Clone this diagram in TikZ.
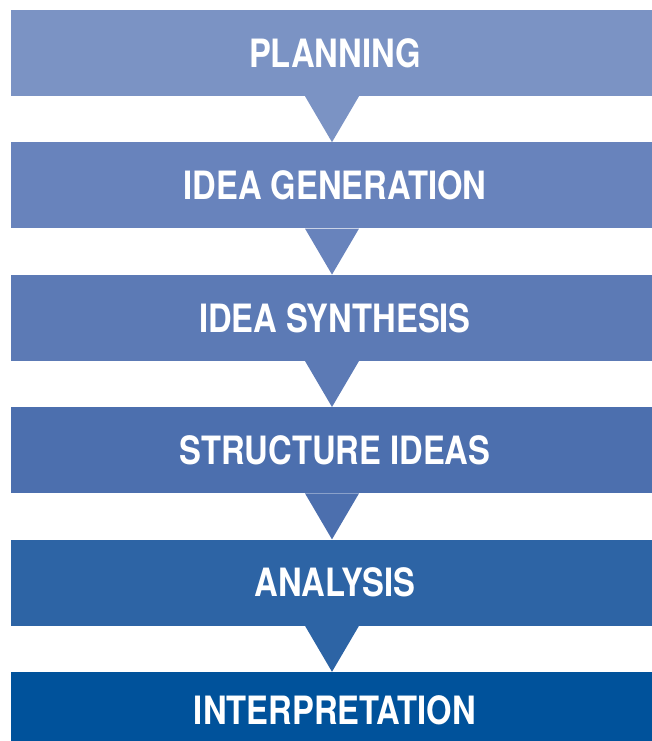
\documentclass[tikz,border=0pt]{standalone}
\usepackage{fontspec}
\setmainfont{TeX Gyre Heros}[FakeStretch=0.84]
\definecolor{cPlan}{RGB}{123,147,196}
\definecolor{cGen}{RGB}{104,131,188}
\definecolor{cSyn}{RGB}{92,122,181}
\definecolor{cStr}{RGB}{76,111,174}
\definecolor{cAna}{RGB}{45,100,165}
\definecolor{cInt}{RGB}{0,82,155}

\begin{document}
\begin{tikzpicture}[x=1pt,y=-1pt,
  stage/.style={rectangle,inner sep=0pt,minimum width=648pt,minimum height=86pt,
    text=white,font=\fontsize{39}{40}\selectfont\bfseries}]
\useasboundingbox (0,0) rectangle (651,741);

\path (335,53) node[stage,fill=cPlan] (plan) {PLANNING};
\path (335,185.4) node[stage,fill=cGen] (gen) {IDEA GENERATION};
\path (335,317.8) node[stage,fill=cSyn] (syn) {IDEA SYNTHESIS};
\path (335,450.2) node[stage,fill=cStr] (str) {STRUCTURE IDEAS};
\path (335,582.6) node[stage,fill=cAna] (ana) {ANALYSIS};
\path (335,710) node[stage,fill=cInt,minimum height=76pt] (int) {INTERPRETATION};

% pointers between stages
\fill[cPlan] (plan.south) ++(-30,0) -- ++(54,0) -- ([xshift=-3pt]gen.north) -- cycle;
\fill[cGen] (gen.south) ++(-30,0) -- ++(54,0) -- ([xshift=-3pt]syn.north) -- cycle;
\fill[cSyn] (syn.south) ++(-30,0) -- ++(54,0) -- ([xshift=-3pt]str.north) -- cycle;
\fill[cStr] (str.south) ++(-30,0) -- ++(54,0) -- ([xshift=-3pt]ana.north) -- cycle;
\fill[cAna] (ana.south) ++(-30,0) -- ++(54,0) -- ([xshift=-3pt]int.north) -- cycle;
\end{tikzpicture}
\end{document}
